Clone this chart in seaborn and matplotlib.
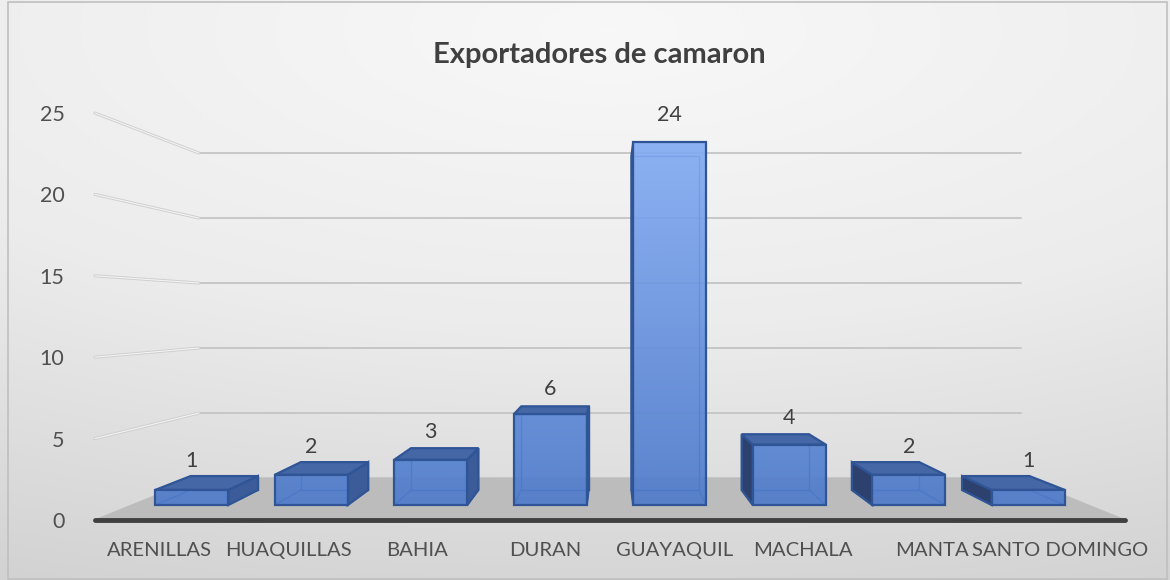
import numpy as np
import pandas as pd
import matplotlib
matplotlib.use("Agg")
import matplotlib.pyplot as plt
import seaborn as sns
from matplotlib.transforms import Affine2D
from matplotlib.patches import Rectangle
from matplotlib.colors import LinearSegmentedColormap

# data
ciudades = ["ARENILLAS", "HUAQUILLAS", "BAHIA", "DURAN", "GUAYAQUIL",
            "MACHALA", "MANTA", "SANTO DOMINGO"]
exportadores = [1, 2, 3, 6, 24, 4, 2, 1]
y_ticks = [0, 5, 10, 15, 20, 25]
titulo = "Exportadores de camaron"

df = pd.DataFrame({"ciudad": ciudades, "exportadores": exportadores})

sns.set_theme(style="white")
plt.rcParams["font.family"] = ["Lato", "DejaVu Sans"]

# fake 3D: vanishing point (data coords) and depth factors
vx, vy = 3.5, 12.8
k_front, k_back, k_wall = 0.072, 0.144, 0.2015


def proj(x, y, k):
    return vx + (1 - k) * (x - vx), vy + (1 - k) * (y - vy)


fig = plt.figure(figsize=(11.7, 5.8), dpi=100)

# background gradient
bg = fig.add_axes([0, 0, 1, 1], zorder=0)
yy, xx = np.mgrid[0:1:290j, 0:1:585j]
r = np.sqrt((xx - 0.52) ** 2 + ((yy - 0.05) * 1.3) ** 2)
cmap_bg = LinearSegmentedColormap.from_list("bg", ["#f8f8f8", "#ececec", "#d2d2d2"])
bg.imshow(r, cmap=cmap_bg, extent=[0, 1, 0, 1], aspect="auto", origin="upper")
bg.axis("off")

ax = fig.add_axes([95 / 1170, 60 / 580, 1030 / 1170, 407 / 580], zorder=1)
ax.patch.set_alpha(0)

edge = "#2F5597"
sns.barplot(data=df, x="ciudad", y="exportadores", ax=ax, color="#5B87D6",
            saturation=1, width=0.611, edgecolor=edge, linewidth=1.6, zorder=5)
ax.set_xlim(-0.5, 7.5)
ax.set_ylim(0, 25)

# floor
fx0, fx1 = -0.5, 7.5
floor = [proj(fx0, 0, 0), proj(fx1, 0, 0), proj(fx1, 0, k_wall), proj(fx0, 0, k_wall)]
ax.fill([p[0] for p in floor], [p[1] for p in floor], color="#bcbcbc",
        zorder=1, clip_on=False)
ax.plot([fx0, fx1], [0, 0], color="#404040", lw=3.5, solid_capstyle="round",
        zorder=2, clip_on=False)

# back wall and left wall gridlines
for t in y_ticks[1:]:
    a = proj(fx0, t, k_wall)
    b = proj(fx1, t, k_wall)
    ax.plot([a[0], b[0]], [a[1], b[1]], color="#c4c4c4", lw=1.3, zorder=1.5,
            clip_on=False)
    ax.plot([fx0, a[0]], [t, a[1]], color="#cfcfcf", lw=2.2, zorder=1.5,
            clip_on=False)
    ax.plot([fx0, a[0]], [t, a[1]], color="#f4f4f4", lw=0.8, zorder=1.6,
            clip_on=False)

persp_front = Affine2D().translate(-vx, -vy).scale(1 - k_front).translate(vx, vy)
cmap_bar = LinearSegmentedColormap.from_list("bar", ["#4E7BCB", "#86AEF5"])
grad = np.linspace(0, 1, 256).reshape(-1, 1)

for p, v in zip(ax.patches, exportadores):
    x0, w, h = p.get_x(), p.get_width(), p.get_height()
    p.set_transform(persp_front + ax.transData)
    p.set_facecolor("none")
    p.set_clip_on(False)

    # gradient fill of the front face, clipped to the bar
    im = ax.imshow(grad, cmap=cmap_bar, extent=[x0, x0 + w, 0, 25],
                   origin="lower", aspect="auto", alpha=0.92, zorder=4.5,
                   interpolation="bilinear")
    im.set_transform(persp_front + ax.transData)
    im.set_clip_path(p)

    FLb, FRb = proj(x0, 0, k_front), proj(x0 + w, 0, k_front)
    FLt, FRt = proj(x0, h, k_front), proj(x0 + w, h, k_front)
    BLb, BRb = proj(x0, 0, k_back), proj(x0 + w, 0, k_back)
    BLt, BRt = proj(x0, h, k_back), proj(x0 + w, h, k_back)

    back = [BLb, BRb, BRt, BLt, BLb]
    ax.plot([q[0] for q in back], [q[1] for q in back], color=edge, lw=1.0,
            zorder=3, clip_on=False)
    for f, b in [(FLb, BLb), (FRb, BRb)]:
        ax.plot([f[0], b[0]], [f[1], b[1]], color=edge, lw=1.0, zorder=3,
                clip_on=False)

    faces = []
    if x0 + w < vx:
        faces.append(([FRb, BRb, BRt, FRt], "#3B5C99"))
    if x0 > vx:
        faces.append(([FLb, BLb, BLt, FLt], "#2C416E"))
    if h < vy:
        faces.append(([FLt, FRt, BRt, BLt], "#4667A6"))
    for pts, col in faces:
        ax.fill([q[0] for q in pts], [q[1] for q in pts], facecolor=col,
                edgecolor=edge, lw=1.6, zorder=4, clip_on=False)

    top_y = max(FLt[1], BLt[1])
    ax.annotate(str(v), xy=((FLt[0] + FRt[0]) / 2, top_y),
                xytext=(0, 3 + 0.4 * v), textcoords="offset points",
                ha="center", va="bottom", fontsize=15.5, color="#404040",
                zorder=6, annotation_clip=False)

ax.set_xlim(-0.5, 7.5)
ax.set_ylim(0, 25)
ax.set_yticks(y_ticks)
ax.set_yticklabels([str(t) for t in y_ticks])
ax.set_xticks(range(len(ciudades)))
ax.set_xticklabels(ciudades)
ax.set_xlabel("")
ax.set_ylabel("")
ax.tick_params(axis="y", length=0, pad=22, labelsize=15.5, labelcolor="#505050")
ax.tick_params(axis="x", length=0, pad=16, labelsize=14.6, labelcolor="#505050")
ax.grid(False)
for s in ax.spines.values():
    s.set_visible(False)

fig.text(0.512, 1 - 55 / 580, titulo, ha="center", va="center", fontsize=21,
         fontweight="bold", color="#404040")

fig.add_artist(Rectangle((8 / 1170, 1 / 580), 1159 / 1170, 577 / 580,
                         transform=fig.transFigure, fill=False,
                         edgecolor="#bfbfbf", lw=1.2, zorder=10))

fig.savefig("out.png", dpi=100)
